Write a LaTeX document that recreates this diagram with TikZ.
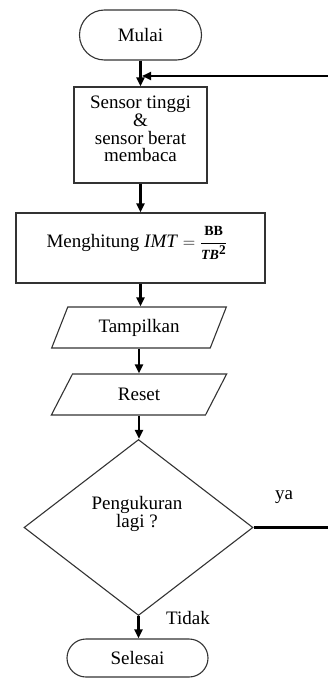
\documentclass[tikz,border=0pt]{standalone}
\usepackage{fontspec}
\setmainfont{Liberation Serif}
\usepackage{amsmath,bm}
\usetikzlibrary{shapes.geometric,arrows.meta}
\begin{document}
\begin{tikzpicture}[x=1pt,y=-1pt,
  shp/.style={draw=black!80, line width=1.1pt, inner sep=0pt},
  txt/.style={font=\fontsize{19}{17.7}\selectfont, align=center, inner sep=0pt},
  term/.style={shp, txt, rectangle, rounded corners=#1},
  io/.style={shp, txt, trapezium, trapezium left angle=62, trapezium right angle=118,
    trapezium stretches=true, minimum width=176pt, minimum height=41pt},
  conn/.style={line width=2.2pt, -{Triangle[length=9pt,width=8pt]}},
]
\useasboundingbox (0,0) rectangle (328,679);
% nodes
\node[term=25pt, minimum width=122pt, minimum height=50pt] (mulai) at (140.5,35) {Mulai};
\node[shp, minimum width=133pt, minimum height=96pt] (sensor) at (140.5,135) {};
\node[txt] (sensortxt) at (140.5,129) {Sensor tinggi\\\&\\sensor berat\\membaca};
\node[shp, minimum width=249pt, minimum height=70pt] (hitung) at (140.5,248) {};
\node[txt] (hitungtxt) at (137,243) {Menghitung \textit{IMT} $=$ $\dfrac{\textbf{\fontsize{14}{14}\selectfont BB}}{\textbf{\textit{\fontsize{14}{14}\selectfont TB}}^{\mathbf{2}}}$};
\node[io] (tampil) at (139,327.5) {Tampilkan};
\node[io] (reset) at (139,394.5) {Reset};
\node[shp, diamond, minimum width=229pt, minimum height=176pt] (dec) at (138.5,527.5) {};
\node[txt] (dectxt) at (137,514) {Pengukuran\\lagi ?};
\node[term=19pt, minimum width=141pt, minimum height=38pt] (selesai) at (137.5,658) {Selesai};
\node[txt] (ya) at (284,497) {ya};
\node[txt] (tidak) at (188,618) {Tidak};
% coordinates for loop
\coordinate (loopa) at (331.5,527.5);
\coordinate (loopb) at (331.5,76);
\coordinate (loopend) at (142,76);
% connectors
\draw[conn] (mulai.south) -- (mulai.south |- sensor.north);
\draw[conn] (sensor.south) -- (sensor.south |- hitung.north);
\draw[conn] (hitung.south) -- (hitung.south |- tampil.north);
\draw[conn] (tampil.south) -- (tampil.south |- reset.north);
\draw[conn] (reset.south) -- (reset.south |- dec.north);
\draw[conn] (dec.south) -- (dec.south |- selesai.north);
\draw[conn] (dec.east) -- (loopa) -- (loopb) -- (loopend);
\end{tikzpicture}
\end{document}
